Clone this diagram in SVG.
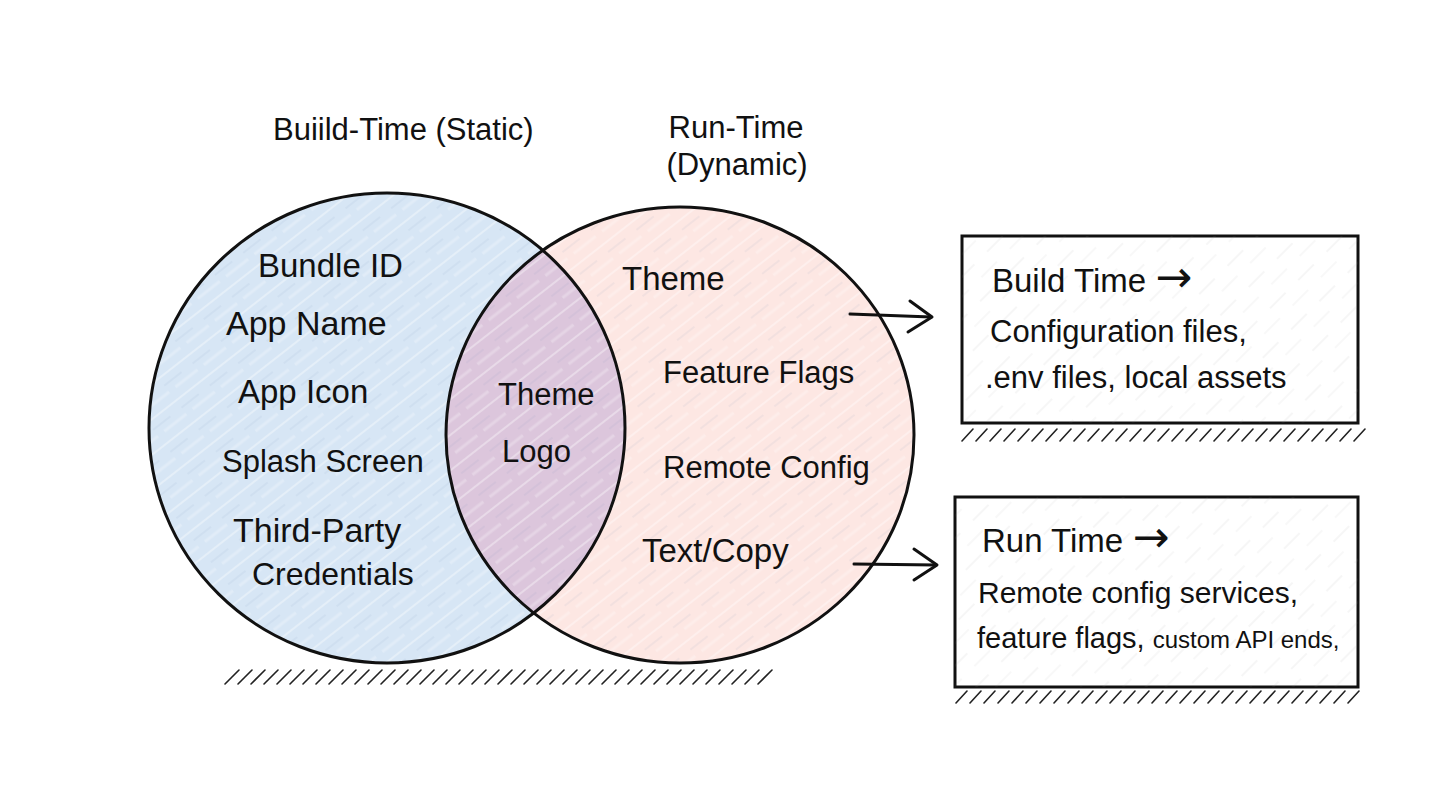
<svg xmlns="http://www.w3.org/2000/svg" width="1456" height="810" viewBox="0 0 1456 810">
  <style>
    .t { font-family: "Liberation Sans", Arial, sans-serif; font-size: 32px; fill: #111; }
    .h { font-family: "Liberation Sans", Arial, sans-serif; font-size: 31px; fill: #111; }
    .b { font-family: "Liberation Sans", Arial, sans-serif; font-size: 31px; fill: #111; }
    .arr { font-family: "DejaVu Sans", sans-serif; font-size: 44px; }
    .outline { fill: none; stroke: #111; stroke-width: 3; }
    .box { fill: #ffffff; stroke: #111; stroke-width: 3; }
    .hatch { fill: none; stroke: #222; stroke-width: 1.6; stroke-linecap: round; }
    .conn { fill: none; stroke: #111; stroke-width: 3; stroke-linecap: round; stroke-linejoin: round; }
  </style>
  <defs>
    <clipPath id="clipLeft">
      <ellipse cx="387" cy="428" rx="238" ry="235"/>
    </clipPath>
    <pattern id="texCircle" width="36" height="28" patternUnits="userSpaceOnUse" patternTransform="rotate(-38)">
      <line x1="0" y1="4" x2="36" y2="4" stroke="#ffffff" stroke-opacity="0.35" stroke-width="2"/>
      <line x1="0" y1="13" x2="22" y2="13" stroke="#6a8fb8" stroke-opacity="0.10" stroke-width="1.5"/>
      <line x1="8" y1="21" x2="36" y2="21" stroke="#ffffff" stroke-opacity="0.25" stroke-width="3"/>
    </pattern>
    <pattern id="texBox" width="40" height="30" patternUnits="userSpaceOnUse" patternTransform="rotate(-45)">
      <line x1="0" y1="6" x2="22" y2="6" stroke="#999" stroke-opacity="0.18" stroke-width="1"/>
      <line x1="18" y1="20" x2="40" y2="20" stroke="#999" stroke-opacity="0.12" stroke-width="1"/>
    </pattern>
  </defs>

  <rect width="1456" height="810" fill="#ffffff"/>

  <!-- Titles -->
  <g id="title-build">
    <text class="h" x="273" y="140">Buiild-Time (Static)</text>
  </g>
  <g id="title-run">
    <text class="h" x="736" y="138" text-anchor="middle">Run-Time</text>
    <text class="h" x="737" y="175" text-anchor="middle">(Dynamic)</text>
  </g>

  <!-- Ground hatch under circles -->
  <path class="hatch" d="M225 684 l14 -14 m-1 14 l14 -14 m-1 14 l14 -14 m-1 14 l14 -14 m-1 14 l14 -14 m-1 14 l14 -14 m-1 14 l14 -14 m-1 14 l14 -14 m-1 14 l14 -14 m-1 14 l14 -14 m-1 14 l14 -14 m-1 14 l14 -14 m-1 14 l14 -14 m-1 14 l14 -14 m-1 14 l14 -14 m-1 14 l14 -14 m-1 14 l14 -14 m-1 14 l14 -14 m-1 14 l14 -14 m-1 14 l14 -14 m-1 14 l14 -14 m-1 14 l14 -14 m-1 14 l14 -14 m-1 14 l14 -14 m-1 14 l14 -14 m-1 14 l14 -14 m-1 14 l14 -14 m-1 14 l14 -14 m-1 14 l14 -14 m-1 14 l14 -14 m-1 14 l14 -14 m-1 14 l14 -14 m-1 14 l14 -14 m-1 14 l14 -14 m-1 14 l14 -14 m-1 14 l14 -14 m-1 14 l14 -14 m-1 14 l14 -14 m-1 14 l14 -14 m-1 14 l14 -14 m-1 14 l14 -14 m-1 14 l14 -14"/>

  <!-- Left circle: Build-Time -->
  <g id="circle-build">
    <ellipse cx="387" cy="428" rx="238" ry="235" fill="#d7e6f5"/>
    <ellipse cx="387" cy="428" rx="238" ry="235" fill="url(#texCircle)"/>
  </g>

  <!-- Right circle: Run-Time -->
  <g id="circle-run">
    <ellipse cx="680" cy="435" rx="234" ry="228" fill="#fde7e3"/>
    <ellipse cx="680" cy="435" rx="234" ry="228" fill="url(#texCircle)"/>
  </g>

  <!-- Overlap lens -->
  <g id="overlap">
    <ellipse cx="680" cy="435" rx="234" ry="228" fill="#dcc6dc" clip-path="url(#clipLeft)"/>
    <ellipse cx="680" cy="435" rx="234" ry="228" fill="url(#texCircle)" clip-path="url(#clipLeft)"/>
  </g>

  <ellipse class="outline" cx="387" cy="428" rx="238" ry="235"/>
  <ellipse class="outline" cx="680" cy="435" rx="234" ry="228"/>

  <!-- Left circle items -->
  <g id="build-items">
    <text class="t" x="258" y="277" style="font-size:33px">Bundle ID</text>
    <text class="t" x="226" y="335" style="font-size:34px">App Name</text>
    <text class="t" x="238" y="403" style="font-size:33px">App Icon</text>
    <text class="t" x="222" y="472" style="font-size:31px">Splash Screen</text>
    <text class="t" x="233" y="542" style="font-size:34px">Third-Party</text>
    <text class="t" x="252" y="585">Credentials</text>
  </g>

  <!-- Overlap items -->
  <g id="overlap-items">
    <text class="t" x="498" y="405" style="font-size:31px">Theme</text>
    <text class="t" x="502" y="462" style="font-size:31px">Logo</text>
  </g>

  <!-- Right circle items -->
  <g id="run-items">
    <text class="t" x="622" y="290" style="font-size:33px">Theme</text>
    <text class="t" x="663" y="383" style="font-size:31px">Feature Flags</text>
    <text class="t" x="663" y="478" style="font-size:31px">Remote Config</text>
    <text class="t" x="642" y="562" style="font-size:33px">Text/Copy</text>
  </g>

  <!-- Box 1: Build Time -->
  <g id="box-build">
    <path class="hatch" d="M962 441 l11 -12 m3 12 l11 -12 m3 12 l11 -12 m3 12 l11 -12 m3 12 l11 -12 m3 12 l11 -12 m3 12 l11 -12 m3 12 l11 -12 m3 12 l11 -12 m3 12 l11 -12 m3 12 l11 -12 m3 12 l11 -12 m3 12 l11 -12 m3 12 l11 -12 m3 12 l11 -12 m3 12 l11 -12 m3 12 l11 -12 m3 12 l11 -12 m3 12 l11 -12 m3 12 l11 -12 m3 12 l11 -12 m3 12 l11 -12 m3 12 l11 -12 m3 12 l11 -12 m3 12 l11 -12 m3 12 l11 -12 m3 12 l11 -12 m3 12 l11 -12 m3 12 l11 -12"/>
    <rect class="box" x="962" y="236" width="396" height="187"/>
    <rect x="962" y="236" width="396" height="187" fill="url(#texBox)"/>
    <text class="b" x="992" y="292" style="font-size:33px">Build Time <tspan class="arr">→</tspan></text>
    <text class="b" x="990" y="342">Configuration files,</text>
    <text class="b" x="985" y="388">.env files, local assets</text>
  </g>

  <!-- Box 2: Run Time -->
  <g id="box-run">
    <path class="hatch" d="M956 703 l11 -12 m3 12 l11 -12 m3 12 l11 -12 m3 12 l11 -12 m3 12 l11 -12 m3 12 l11 -12 m3 12 l11 -12 m3 12 l11 -12 m3 12 l11 -12 m3 12 l11 -12 m3 12 l11 -12 m3 12 l11 -12 m3 12 l11 -12 m3 12 l11 -12 m3 12 l11 -12 m3 12 l11 -12 m3 12 l11 -12 m3 12 l11 -12 m3 12 l11 -12 m3 12 l11 -12 m3 12 l11 -12 m3 12 l11 -12 m3 12 l11 -12 m3 12 l11 -12 m3 12 l11 -12 m3 12 l11 -12 m3 12 l11 -12 m3 12 l11 -12 m3 12 l11 -12"/>
    <rect class="box" x="955" y="497" width="403" height="190"/>
    <rect x="955" y="497" width="403" height="190" fill="url(#texBox)"/>
    <text class="b" x="982" y="552" style="font-size:33px">Run Time <tspan class="arr">→</tspan></text>
    <text class="b" x="978" y="603" style="font-size:30px">Remote config services,</text>
    <text class="b" x="977" y="648" style="font-size:29px">feature flags, <tspan style="font-size:24px">custom API ends,</tspan></text>
  </g>

  <!-- Connectors -->
  <g id="connectors">
    <path class="conn" d="M850 314 L931 317"/>
    <path class="conn" d="M910 301 L932 317 L908 332"/>
    <path class="conn" d="M854 564 L936 565"/>
    <path class="conn" d="M914 549 L937 565 L914 580"/>
  </g>
</svg>
